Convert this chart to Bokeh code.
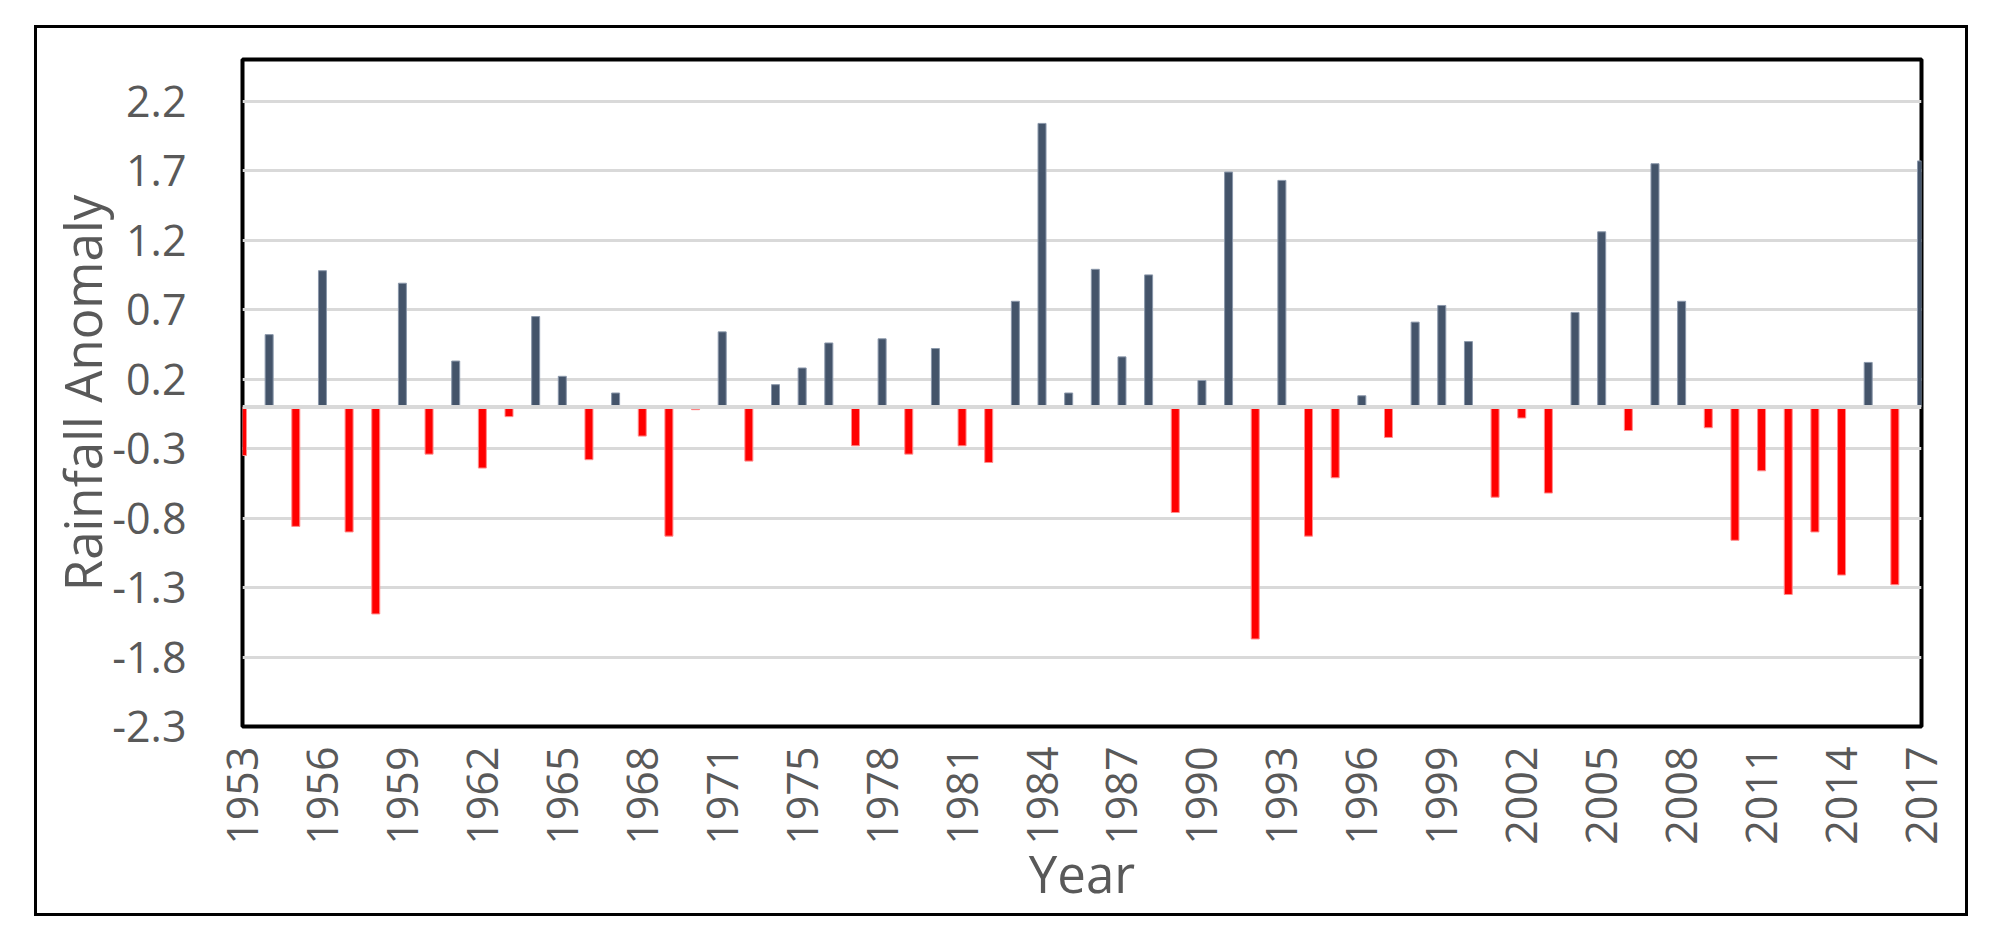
import math
from bokeh.plotting import figure
from bokeh.models import Range1d, FixedTicker, PrintfTickFormatter, Span, ColumnDataSource
from bokeh.embed import file_html
from bokeh.resources import INLINE

# ---- data ----
years = ["1953", "1954", "1955", "1956", "1957", "1958", "1959", "1960", "1961", "1962",
         "1963", "1964", "1965", "1966", "1967", "1968", "1969", "1970", "1971", "1972",
         "1974", "1975", "1976", "1977", "1978", "1979", "1980", "1981", "1982", "1983",
         "1984", "1985", "1986", "1987", "1988", "1989", "1990", "1991", "1992", "1993",
         "1994", "1995", "1996", "1997", "1998", "1999", "2000", "2001", "2002", "2003",
         "2004", "2005", "2006", "2007", "2008", "2009", "2010", "2011", "2012", "2013",
         "2014", "2015", "2016", "2017"]
anomaly = [-0.35, 0.52, -0.86, 0.98, -0.90, -1.49, 0.89, -0.34, 0.33, -0.44,
           -0.07, 0.65, 0.22, -0.38, 0.10, -0.21, -0.93, -0.02, 0.54, -0.39,
           0.16, 0.28, 0.46, -0.28, 0.49, -0.34, 0.42, -0.28, -0.40, 0.76,
           2.04, 0.10, 0.99, 0.36, 0.95, -0.76, 0.19, 1.69, -1.67, 1.63,
           -0.93, -0.51, 0.08, -0.22, 0.61, 0.73, 0.47, -0.65, -0.08, -0.62,
           0.68, 1.26, -0.17, 1.75, 0.76, -0.15, -0.96, -0.46, -1.35, -0.90,
           -1.21, 0.32, -1.28, 1.77]
y_ticks = [2.2, 1.7, 1.2, 0.7, 0.2, -0.3, -0.8, -1.3, -1.8, -2.3]
label_every = 3

POS_COLOR = "#44546A"
NEG_COLOR = "#FF0000"
TEXT_COLOR = "#595959"
FONT = "Open Sans"

idx = list(range(len(years)))
colors = [POS_COLOR if v >= 0 else NEG_COLOR for v in anomaly]
edges = ["#8a97aa" if v >= 0 else "#ff8c8c" for v in anomaly]
src = ColumnDataSource(dict(x=idx, top=anomaly, color=colors, edge=edges))

p = figure(width=1928, height=885,
           x_range=Range1d(0, len(years) - 1), y_range=Range1d(-2.3, 2.5),
           output_backend="svg", toolbar_location=None,
           min_border_left=205, min_border_right=50,
           min_border_top=31, min_border_bottom=193)

p.vbar(x="x", top="top", bottom=0, width=0.30, source=src,
       fill_color="color", line_color="edge", line_width=1)

p.add_layout(Span(location=0, dimension="width", line_color="#D9D9D9", line_width=4))

p.outline_line_color = "black"
p.outline_line_width = 4
p.background_fill_color = "white"
p.border_fill_color = "white"

# x axis
tick_pos = idx[::label_every]
p.xaxis.ticker = FixedTicker(ticks=tick_pos)
p.xaxis.major_label_overrides = {i: years[i] for i in tick_pos}
p.xaxis.major_label_orientation = math.pi / 2
p.xaxis.axis_label = "Year"
p.xgrid.grid_line_color = None

# y axis
p.yaxis.ticker = FixedTicker(ticks=y_ticks)
p.yaxis.formatter = PrintfTickFormatter(format="%.1f")
p.yaxis.axis_label = "Rainfall Anomaly"
p.ygrid.grid_line_color = "#D9D9D9"
p.ygrid.grid_line_width = 3

for ax in (p.xaxis, p.yaxis):
    ax.axis_line_color = None
    ax.major_tick_line_color = None
    ax.minor_tick_line_color = None
    ax.major_label_text_font = FONT
    ax.major_label_text_font_size = "43px"
    ax.major_label_text_color = TEXT_COLOR
    ax.axis_label_text_font = FONT
    ax.axis_label_text_font_size = "51px"
    ax.axis_label_text_font_style = "normal"
    ax.axis_label_text_color = TEXT_COLOR

p.yaxis.major_label_standoff = 50
p.yaxis.axis_label_standoff = -8
p.xaxis.major_label_standoff = 14
p.xaxis.axis_label_standoff = -10

# outer chart border, drawn outside the canvas
p.styles = {"border": "3px solid black", "box-sizing": "content-box"}
p.margin = (25, 0, 0, 34)

open("out.html", "w").write(file_html(p, INLINE))
